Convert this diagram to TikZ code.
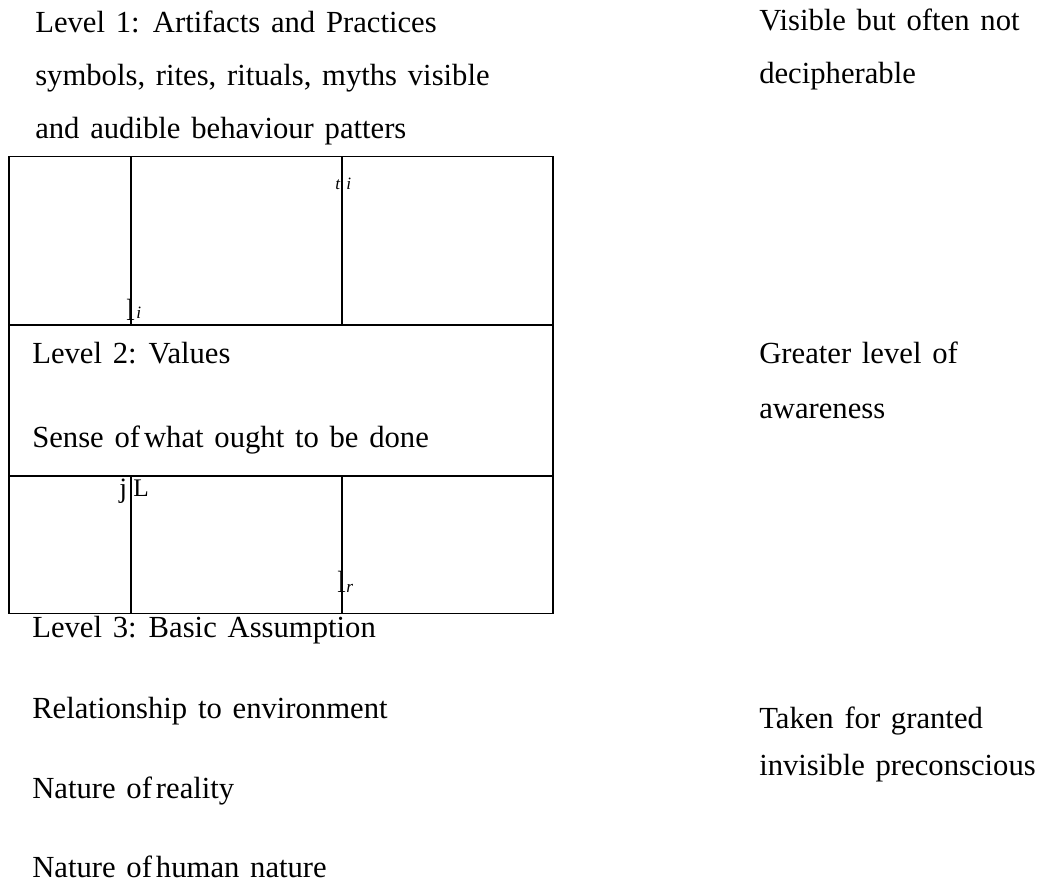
\documentclass[tikz,border=0pt]{standalone}
\usepackage{fontspec}
\setmainfont{Liberation Serif}
\newcommand\widespaces{\spaceskip=0.35em\relax}
\begin{document}
\begin{tikzpicture}[x=0.75pt,y=-0.75pt,
  lbl/.style={anchor=base west,inner sep=0pt,font={\fontsize{23}{27}\selectfont\widespaces}},
  glyph/.style={anchor=base west,inner sep=0pt,font={\fontsize{#1}{#1}\selectfont}},
  subit/.style={anchor=base west,inner sep=0pt,font={\fontsize{#1}{#1}\selectfont\itshape}},
  boxline/.style={line width=1pt,black}]
\useasboundingbox (0,0) rectangle (1044,886);
% frame
\coordinate (tl) at (9,156.5);
\coordinate (br) at (553,613.5);
\draw[boxline] (tl) rectangle (br);
\draw[boxline] (9,325) -- (553,325);
\draw[boxline] (9,476) -- (553,476);
\draw[boxline] (131,156.5) -- (131,325);
\draw[boxline] (342,156.5) -- (342,325);
\draw[boxline] (131,476) -- (131,613.5);
\draw[boxline] (342,476) -- (342,613.5);
% left texts
\node[lbl] (l1a) at (35,32) {Level 1: Artifacts and Practices};
\node[lbl] (l1b) at (35,85) {symbols, rites, rituals, myths visible};
\node[lbl] (l1c) at (35,138) {and audible behaviour patters};
\node[lbl] (l2a) at (32,363) {Level 2:\ \hspace{1pt}Values};
\node[lbl] (l2b) at (32,447) {Sense of\hspace{3pt}what ought to be done};
\node[lbl] (l3a) at (32,637) {Level 3:\ \hspace{1pt}Basic Assumption};
\node[lbl] (l3b) at (32,718) {Relationship to environment};
\node[lbl] (l3c) at (32,798) {Nature of\hspace{3pt}reality};
\node[lbl] (l3d) at (32,877) {Nature of\hspace{3pt}human nature};
% right texts
\node[lbl] (r1a) at (759,30) {Visible but often not};
\node[lbl] (r1b) at (759,83) {decipherable};
\node[lbl] (r2a) at (759,363) {Greater level of};
\node[lbl] (r2b) at (759,418) {awareness};
\node[lbl] (r3a) at (759,728) {Taken for granted};
\node[lbl] (r3b) at (759,775) {invisible preconscious};
% stray glyphs
\node[subit=13] (g1) at (335,189) {t};
\node[subit=13] (g2) at (346,189) {i};
\node[glyph=23] (g3) at (126,320) {l};
\node[subit=13] (g4) at (136,318) {i};
\node[glyph=21] (g5) at (119,497) {j};
\node[glyph=19] (g6) at (133,496) {L};
\node[glyph=23] (g7) at (337,592) {l};
\node[subit=13] (g8) at (346,592) {r};
\end{tikzpicture}
\end{document}
